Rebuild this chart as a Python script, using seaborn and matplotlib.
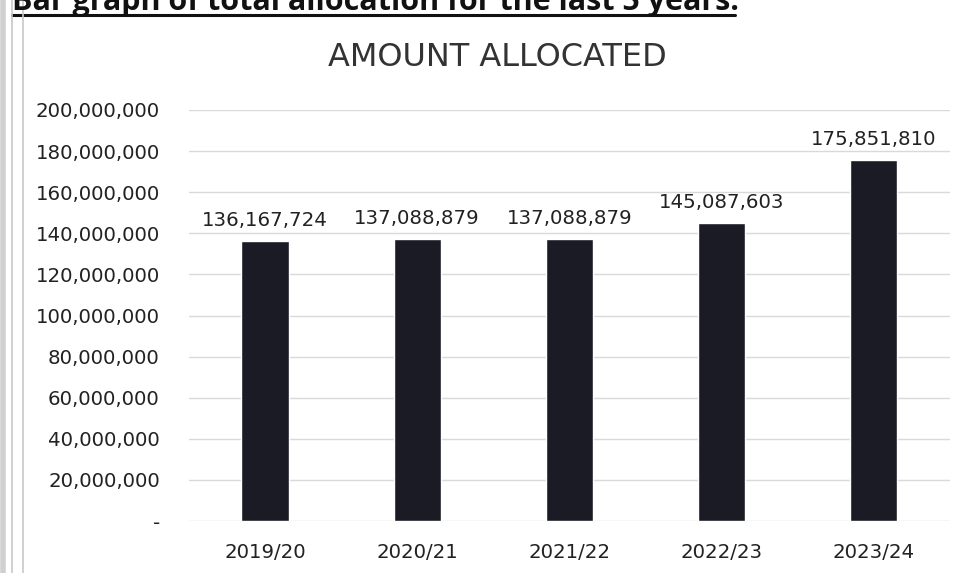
import matplotlib
matplotlib.use("Agg")
import matplotlib.pyplot as plt
import seaborn as sns
import pandas as pd
from matplotlib.lines import Line2D

years = ["2019/20", "2020/21", "2021/22", "2022/23", "2023/24"]
amounts = [136167724, 137088879, 137088879, 145087603, 175851810]
yticks = [0, 20000000, 40000000, 60000000, 80000000, 100000000,
          120000000, 140000000, 160000000, 180000000, 200000000]

sns.set_theme(style="white")
plt.rcParams['font.family'] = ['DejaVu Sans']

W, H = 968, 573
fig = plt.figure(figsize=(W / 100, H / 100), dpi=100)
ax = fig.add_axes([189 / W, 1 - 521 / H, (949.5 - 189) / W, (521 - 110) / H])

df = pd.DataFrame({"year": years, "amount": amounts})
sns.barplot(data=df, x="year", y="amount", color="#1b1b26", width=0.31,
            saturation=1, ax=ax, zorder=3)

ax.set_ylim(0, 200000000)
ax.set_xlim(-0.5, 4.5)
ax.set_yticks(yticks)
ax.set_yticklabels(["-" if v == 0 else f"{v:,}" for v in yticks])
ax.yaxis.grid(True, color="#d9d9d9", linewidth=1)
ax.set_axisbelow(True)
for s in ax.spines.values():
    s.set_visible(False)
ax.set_xlabel("")
ax.set_ylabel("")
ax.tick_params(axis="y", length=0, pad=21, labelsize=14.2, labelcolor="#222222")
ax.tick_params(axis="x", length=0, pad=16, labelsize=14.2, labelcolor="#222222")

for i, v in enumerate(amounts):
    ax.annotate(f"{v:,}", (i, v), xytext=(0, 8), textcoords="offset points",
                ha="center", va="bottom", fontsize=14.2, color="#222222")

fig.text(497 / W, 1 - 58 / H, "AMOUNT ALLOCATED", ha="center", va="center",
         fontsize=23, color="#333333")

# clipped heading (cut off at top edge as in the reference)
fig.text(12 / W, 1 - 10 / H, "Bar graph of total allocation for the last 5 years.",
         ha="left", va="baseline", fontsize=22, fontweight="bold",
         color="#111111", family=["Open Sans", "DejaVu Sans"])
fig.add_artist(Line2D([12 / W, 735 / W], [1 - 15 / H, 1 - 15 / H],
                      transform=fig.transFigure, color="#111111", linewidth=2.2))

# left page border lines
for x, c, lw in ((3, "#d0d0d0", 4), (12, "#c8c8c8", 1.2), (23, "#c8c8c8", 1.2)):
    fig.add_artist(Line2D([x / W, x / W], [0, 1], transform=fig.transFigure,
                          color=c, linewidth=lw))

fig.savefig("out.png", dpi=100)
